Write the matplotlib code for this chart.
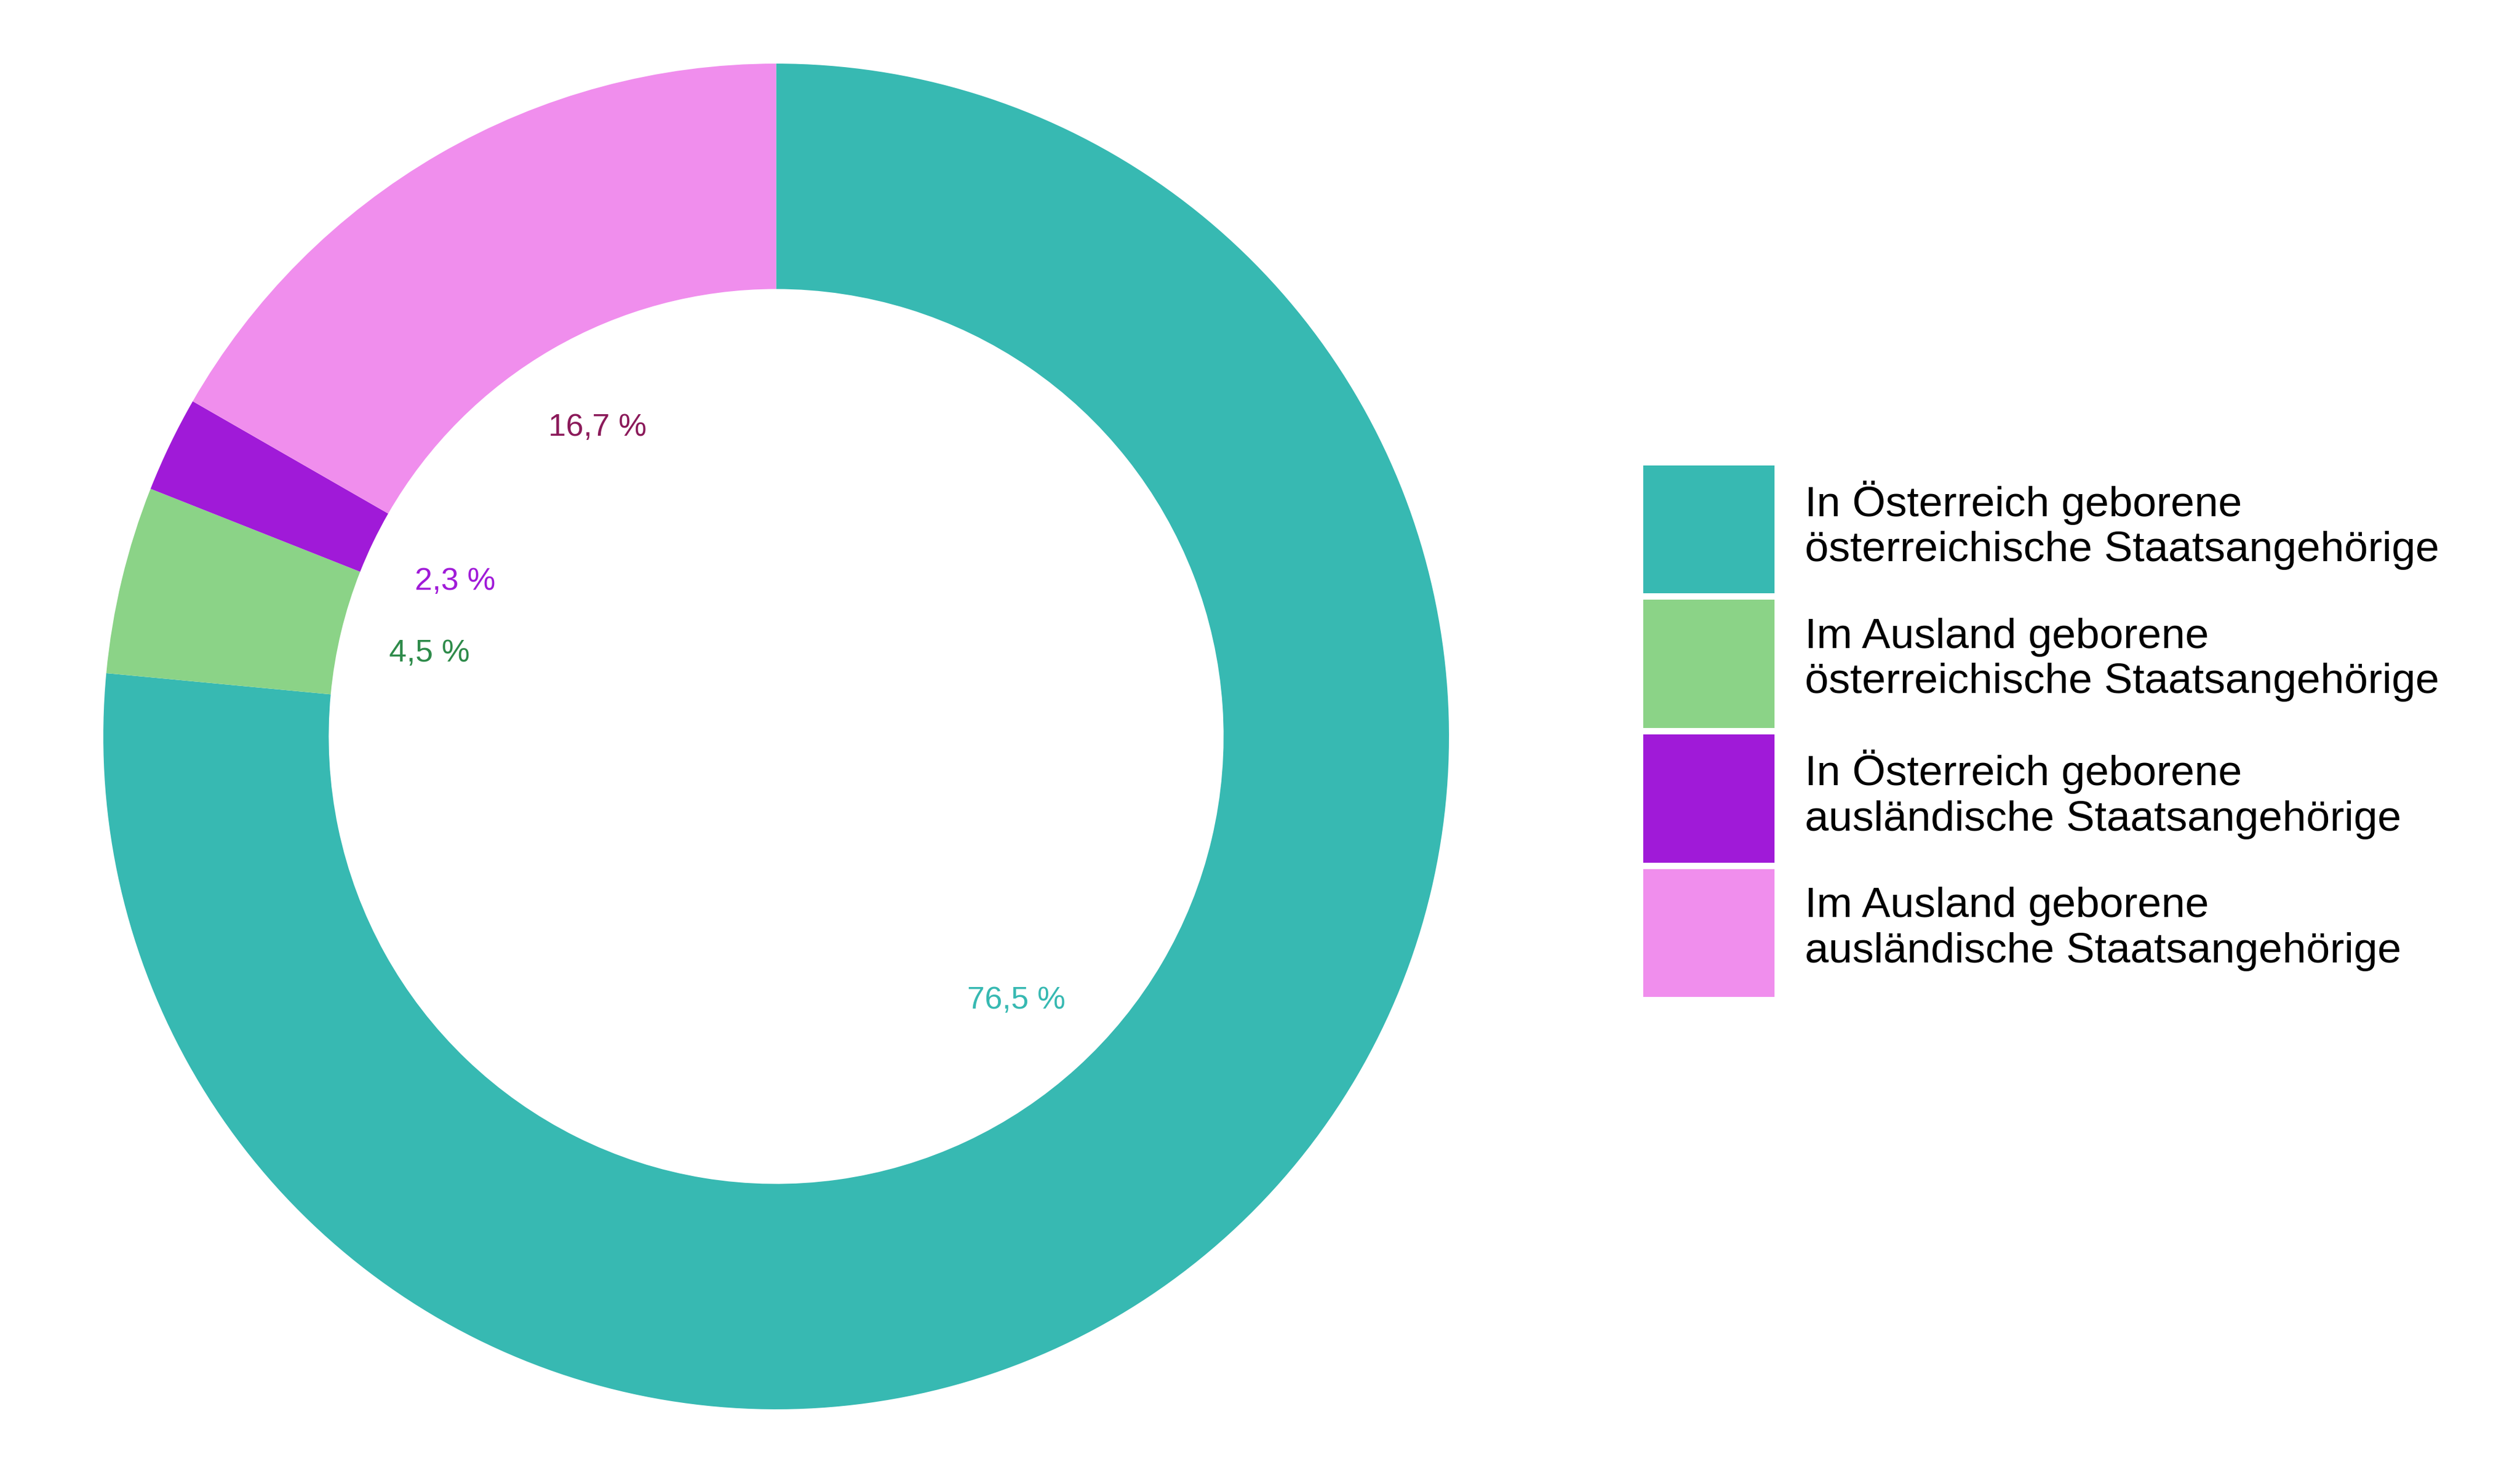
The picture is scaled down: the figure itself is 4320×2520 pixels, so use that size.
import matplotlib
matplotlib.use("Agg")
import matplotlib.pyplot as plt
from matplotlib.patches import Patch

categories = ["In Österreich geborene\nösterreichische Staatsangehörige",
              "Im Ausland geborene\nösterreichische Staatsangehörige",
              "In Österreich geborene\nausländische Staatsangehörige",
              "Im Ausland geborene\nausländische Staatsangehörige"]
values = [76.5, 4.5, 2.3, 16.7]
labels = ["76,5 %", "4,5 %", "2,3 %", "16,7 %"]
colors = ["#37b9b2", "#8bd387", "#a01ad8", "#f08eed"]
label_colors = ["#37b9b2", "#2e8b4a", "#a01ad8", "#8b1a5a"]

plt.rcParams["font.family"] = "Liberation Sans"
fig = plt.figure(figsize=(14.4, 8.4), dpi=300)
ax = fig.add_axes([0.041, 0.041, 0.534, 0.916])
wedges, texts = ax.pie(values, colors=colors, startangle=90, counterclock=False,
                       labels=labels, labeldistance=0.53,
                       wedgeprops=dict(width=0.335, edgecolor="none"),
                       textprops=dict(fontsize=13))
for t, c in zip(texts, label_colors):
    t.set_color(c)
    t.set_ha("center")
ax.set_aspect("equal")
ax.set_xlim(-1, 1); ax.set_ylim(-1, 1)

fs = 17.6
handles = [Patch(facecolor=c, edgecolor="none") for c in colors]
fig.legend(handles, categories, loc="upper left", bbox_to_anchor=(0.652, 1 - 288/910),
           frameon=False, fontsize=fs, handlelength=54/fs, handleheight=4.43*16.8/fs,
           labelspacing=0.16*16.8/fs, handletextpad=0.72, borderpad=0, borderaxespad=0)
fig.savefig("out.png", dpi=300)
